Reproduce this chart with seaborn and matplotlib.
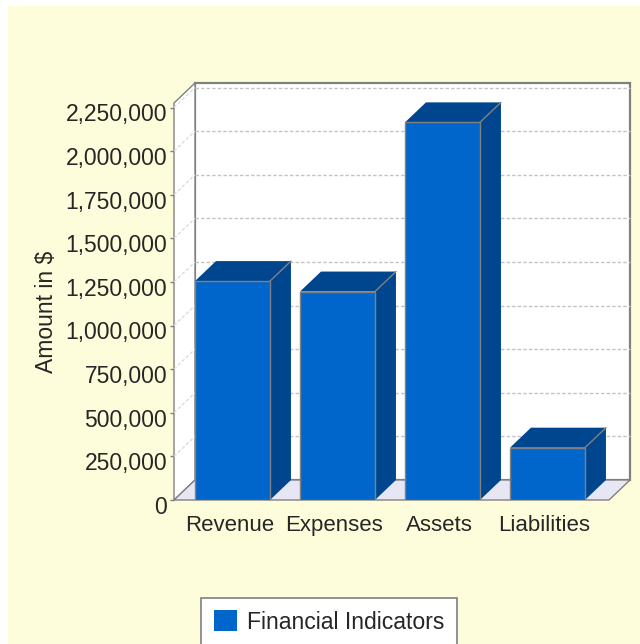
import pandas as pd
import matplotlib
matplotlib.use("Agg")
import matplotlib.pyplot as plt
from matplotlib.patches import Polygon
from matplotlib.ticker import FuncFormatter
from matplotlib.transforms import ScaledTranslation
import seaborn as sns

# values
categories = ["Revenue", "Expenses", "Assets", "Liabilities"]
amounts = [1255000, 1195000, 2165000, 300000]
y_ticks = [0, 250000, 500000, 750000, 1000000, 1250000, 1500000, 1750000, 2000000, 2250000]
series_name = "Financial Indicators"

FRONT = "#0066cc"
DARK = "#00468f"
EDGE = "#808080"
PAGE = "#fdfddb"
FLOOR = "#e6e6f5"
TEXT = "#262626"

sns.set_theme(style="white")
plt.rcParams["font.family"] = ["Liberation Sans", "DejaVu Sans"]

df = pd.DataFrame({"category": categories, "amount": amounts})

fig = plt.figure(figsize=(6.4, 6.44), dpi=100, facecolor="white")
# page colour, with a thin white margin on the top and left
fig.patches.append(plt.Rectangle((8 / 640, 0), 632 / 640, 638 / 644, transform=fig.transFigure,
                                 facecolor=PAGE, edgecolor="none", zorder=-5))

ax = fig.add_axes([174 / 640, 144 / 644, 435 / 640, 397 / 644])
ax.patch.set_visible(False)

sns.barplot(data=df, x="category", y="amount", color=FRONT, saturation=1, width=0.714,
            edgecolor=EDGE, linewidth=1, label=series_name, zorder=3, ax=ax)

xmin, xmax = -0.557, 3.586
ymax = 2276000
ax.set_xlim(xmin, xmax)
ax.set_ylim(0, ymax)

# depth of the fake 3d box in data units
dx = 21 / 435 * (xmax - xmin)
dy = 20 / 397 * ymax

# walls and floor
ax.add_patch(Polygon([(xmin + dx, dy), (xmax + dx, dy), (xmax + dx, ymax + dy), (xmin + dx, ymax + dy)],
                     facecolor="white", edgecolor=EDGE, linewidth=1.6, clip_on=False, zorder=0))
ax.add_patch(Polygon([(xmin, 0), (xmin + dx, dy), (xmin + dx, ymax + dy), (xmin, ymax)],
                     facecolor="white", edgecolor=EDGE, linewidth=1, clip_on=False, zorder=0))
ax.add_patch(Polygon([(xmin, 0), (xmax, 0), (xmax + dx, dy), (xmin + dx, dy)],
                     facecolor=FLOOR, edgecolor=EDGE, linewidth=1, clip_on=False, zorder=0.5))

# dashed grid on the back and left wall
for t in y_ticks[1:]:
    ax.plot([xmin + dx, xmax + dx], [t + dy, t + dy], color="#c4c4c4", lw=1, ls=(0, (2.5, 1.5)),
            clip_on=False, zorder=1)
    ax.plot([xmin, xmin + dx], [t, t + dy], color="#dcdcdc", lw=1, ls=(0, (2.5, 1.5)),
            clip_on=False, zorder=1)

# side and top faces built from the seaborn bars
for bar in ax.patches:
    if bar.get_zorder() != 3:
        continue
    x0, x1 = bar.get_x(), bar.get_x() + bar.get_width()
    h = bar.get_height()
    ax.add_patch(Polygon([(x1, 0), (x1 + dx, dy), (x1 + dx, h + dy), (x1, h)],
                         facecolor=DARK, edgecolor="none", clip_on=False, zorder=2))
    ax.add_patch(Polygon([(x0, h), (x1, h), (x1 + dx, h + dy), (x0 + dx, h + dy)],
                         facecolor=DARK, edgecolor="none", clip_on=False, zorder=2))
    ax.plot([x1, x1 + dx], [h, h + dy], color=EDGE, lw=1, clip_on=False, zorder=2.5)

sns.despine(ax=ax, top=True, right=True, left=True, bottom=True)

ax.set_yticks(y_ticks)
ax.yaxis.set_major_formatter(FuncFormatter(lambda v, pos: f"{int(v):,}"))
ax.tick_params(axis="y", length=3, width=1, color=EDGE, labelsize=16.5, labelcolor=TEXT, pad=2, left=True)
ax.tick_params(axis="x", length=0, labelsize=16, labelcolor=TEXT, pad=11)
ax.set_xlabel("")
ax.set_ylabel("Amount in $", fontsize=16.5, color=TEXT)
ax.yaxis.set_label_coords((58 - 174) / 435, (500 - 312) / 397)

# tick labels sit a bit below their ticks in the original
shift = ScaledTranslation(0, -3.5 / 72, fig.dpi_scale_trans)
for lab in ax.get_yticklabels():
    lab.set_transform(lab.get_transform() + shift)
# x labels sit a little left of the bar centres
shift_x = ScaledTranslation(-3.0 / 100, 0, fig.dpi_scale_trans)
for lab in ax.get_xticklabels():
    lab.set_transform(lab.get_transform() + shift_x)

leg = ax.legend(loc="center", bbox_to_anchor=(329 / 640, 22 / 644), bbox_transform=fig.transFigure,
                frameon=True, fancybox=False, framealpha=1, facecolor="white", edgecolor=EDGE,
                fontsize=16.6, handlelength=1.0, handleheight=1.0, handletextpad=0.45,
                borderpad=0.55, borderaxespad=0, labelcolor=TEXT)
leg.get_frame().set_linewidth(1.2)
for h in leg.get_patches():
    h.set_edgecolor("none")

fig.savefig("out.png", dpi=100, facecolor=fig.get_facecolor())
